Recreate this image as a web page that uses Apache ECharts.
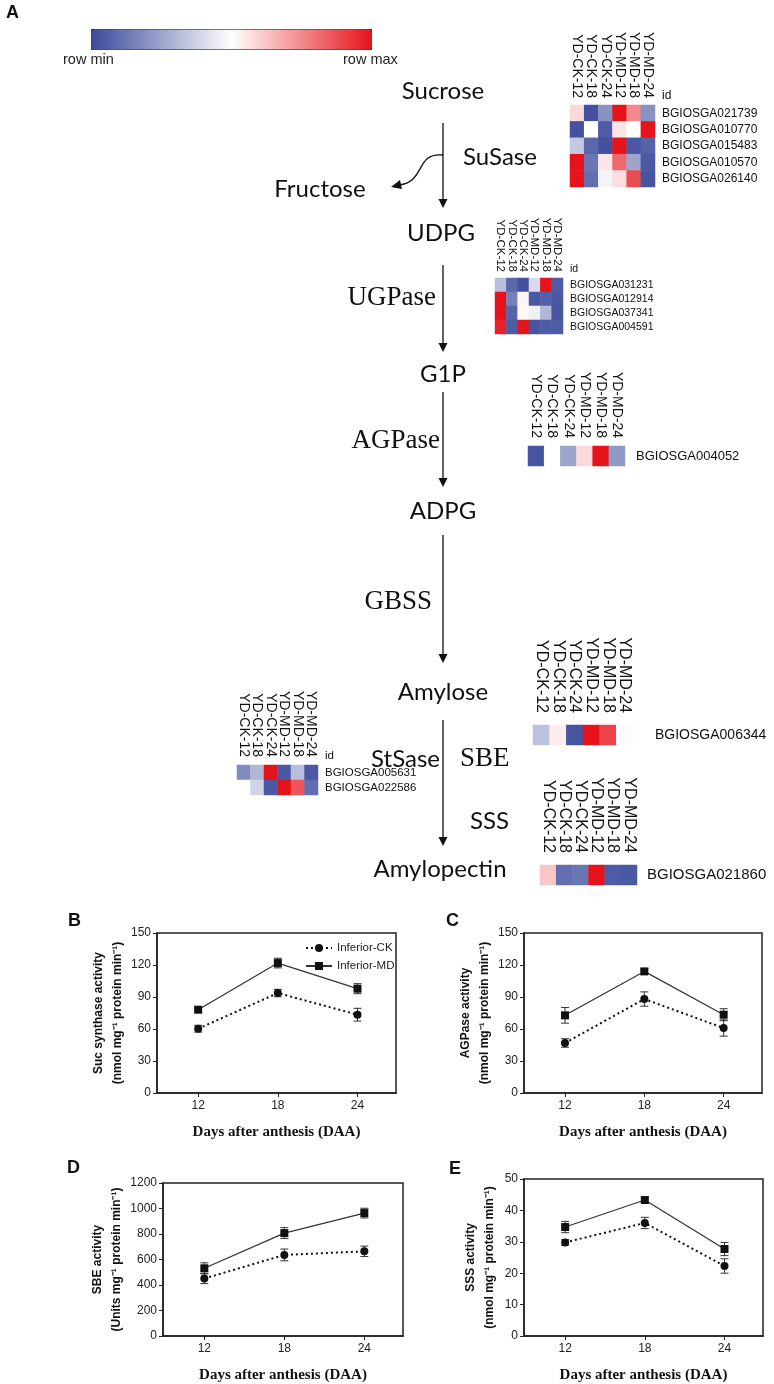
<!DOCTYPE html>
<html>
<head>
<meta charset="utf-8">
<script src="https://cdn.jsdelivr.net/npm/echarts@6/dist/echarts.min.js"></script>
<style>
  html, body { margin: 0; background: #fff; }
  #chart { width: 774px; height: 1384px; }
</style>
</head>
<body>
<div id="chart"></div>
<script>
// ---- heatmap data (row-scaled: 0 = row min, 1 = row max) ----
const sampleCols = ['YD-CK-12', 'YD-CK-18', 'YD-CK-24', 'YD-MD-12', 'YD-MD-18', 'YD-MD-24'];

const susaseIds = ['BGIOSGA021739', 'BGIOSGA010770', 'BGIOSGA015483', 'BGIOSGA010570', 'BGIOSGA026140'];
const susaseVals = [
  [0.58, 0.02, 0.20, 1.00, 0.75, 0.20],
  [0.02, 0.50, 0.05, 0.56, 0.50, 1.00],
  [0.35, 0.08, 0.02, 1.00, 0.04, 0.07],
  [1.00, 0.12, 0.55, 0.82, 0.25, 0.04],
  [1.00, 0.10, 0.47, 0.57, 0.88, 0.03],
];
const ugpaseIds = ['BGIOSGA031231', 'BGIOSGA012914', 'BGIOSGA037341', 'BGIOSGA004591'];
const ugpaseVals = [
  [0.32, 0.08, 0.02, 0.40, 1.00, 0.05],
  [1.00, 0.15, 0.52, 0.04, 0.06, 0.04],
  [1.00, 0.07, 0.51, 0.46, 0.30, 0.03],
  [0.97, 0.05, 1.00, 0.03, 0.05, 0.05],
];
const agpaseIds = ['BGIOSGA004052'];
const agpaseVals = [[0.03, 0.50, 0.25, 0.58, 1.00, 0.22]];
const sbeIds = ['BGIOSGA006344'];
const sbeVals = [[0.33, 0.54, 0.03, 1.00, 0.90, 0.49]];
const stsaseIds = ['BGIOSGA005631', 'BGIOSGA022586'];
const stsaseVals = [
  [0.18, 0.30, 1.00, 0.04, 0.32, 0.04],
  [0.50, 0.38, 0.04, 1.00, 0.86, 0.10],
];
const sssIds = ['BGIOSGA021860'];
const sssVals = [[0.62, 0.10, 0.12, 1.00, 0.05, 0.04]];

// ---- enzyme activity data (mean, error) ----
const daa = [12, 18, 24];
const sucCK = [60.3, 93.7, 73.4], sucCKErr = [3.2, 3.5, 6.0];
const sucMD = [78.1, 121.8, 97.8], sucMDErr = [2.2, 4.5, 4.7];
const agpCK = [46.9, 88.1, 60.9], agpCKErr = [4.0, 6.7, 7.6];
const agpMD = [72.8, 114.0, 73.4], agpMDErr = [7.3, 2.0, 5.6];
const sbeCK = [451, 636, 664], sbeCKErr = [40, 46, 41];
const sbeMD = [531, 807, 964], sbeMDErr = [43, 43, 38];
const sssCK = [29.8, 36.0, 22.3], sssCKErr = [0.9, 1.8, 2.3];
const sssMD = [34.7, 43.3, 27.7], sssMDErr = [1.8, 0.8, 2.1];

const SANS = 'Liberation Sans';
const SERIF = 'Liberation Serif';
const PATH_FONT = 'Lato';

const chart = echarts.init(document.getElementById('chart'), null, { renderer: 'canvas' });

// ---- heatmap panels ----
const heatPanels = [
  { ids: susaseIds, vals: susaseVals, left: 570, top: 105, width: 85, height: 82, colFont: 14, colGap: 7, rowFont: 12, rowGap: 7, idLabel: true },
  { ids: ugpaseIds, vals: ugpaseVals, left: 495, top: 278, width: 68, height: 56, colFont: 11.5, colGap: 6, rowFont: 10.5, rowGap: 7, idLabel: true },
  { ids: agpaseIds, vals: agpaseVals, left: 528, top: 446, width: 97, height: 20, colFont: 14, colGap: 8, rowFont: 13, rowGap: 11, idLabel: false },
  { ids: sbeIds, vals: sbeVals, left: 533, top: 725, width: 100, height: 20, colFont: 16, colGap: 12, rowFont: 14, rowGap: 22, idLabel: false },
  { ids: stsaseIds, vals: stsaseVals, left: 237, top: 765, width: 81, height: 30, colFont: 14, colGap: 8, rowFont: 11.5, rowGap: 7, idLabel: true },
  { ids: sssIds, vals: sssVals, left: 540, top: 865, width: 97, height: 20, colFont: 16, colGap: 12, rowFont: 15, rowGap: 10, idLabel: false },
];

const grids = [], xAxes = [], yAxes = [], series = [], graphics = [];

heatPanels.forEach((p, i) => {
  grids.push({ left: p.left, top: p.top, width: p.width, height: p.height, containLabel: false });
  xAxes.push({
    type: 'category', gridIndex: i, data: sampleCols, position: 'top',
    axisLine: { show: false }, axisTick: { show: false }, splitLine: { show: false },
    axisLabel: { rotate: 90, fontFamily: SANS, fontSize: p.colFont, color: '#111', margin: p.colGap, interval: 0 },
  });
  yAxes.push({
    type: 'category', gridIndex: i, data: p.ids, inverse: true, position: 'right',
    axisLine: { show: false }, axisTick: { show: false }, splitLine: { show: false },
    axisLabel: { fontFamily: SANS, fontSize: p.rowFont, color: '#111', margin: p.rowGap, interval: 0 },
  });
  const data = [];
  p.vals.forEach((row, r) => row.forEach((v, c) => data.push([c, r, v])));
  series.push({
    type: 'heatmap', xAxisIndex: i, yAxisIndex: i, data,
    itemStyle: { borderWidth: 0 }, emphasis: { disabled: true },
  });
  if (p.idLabel) {
    graphics.push({
      type: 'text', x: p.left + p.width + p.rowGap, y: p.top - 3,
      style: { text: 'id', fontFamily: SANS, fontSize: p.rowFont, fill: '#111', verticalAlign: 'bottom' },
    });
  }
});

// ---- line chart panels ----
function errorItem(params, api) {
  const x = api.value(0);
  const lo = api.coord([x, api.value(1)]);
  const hi = api.coord([x, api.value(2)]);
  const w = 4;
  const st = { stroke: '#333', lineWidth: 1 };
  return {
    type: 'group',
    children: [
      { type: 'line', shape: { x1: lo[0], y1: lo[1], x2: hi[0], y2: hi[1] }, style: st },
      { type: 'line', shape: { x1: lo[0] - w, y1: lo[1], x2: lo[0] + w, y2: lo[1] }, style: st },
      { type: 'line', shape: { x1: hi[0] - w, y1: hi[1], x2: hi[0] + w, y2: hi[1] }, style: st },
    ],
  };
}

const linePanels = [
  { left: 157, top: 933, width: 239, height: 160, max: 150, step: 30, gap: 24,
    name: 'Suc synthase activity\n(nmol mg⁻¹ protein min⁻¹)', ck: sucCK, ckErr: sucCKErr, md: sucMD, mdErr: sucMDErr },
  { left: 524, top: 933, width: 238, height: 160, max: 150, step: 30, gap: 25,
    name: 'AGPase activity\n(nmol mg⁻¹ protein min⁻¹)', ck: agpCK, ckErr: agpCKErr, md: agpMD, mdErr: agpMDErr },
  { left: 163, top: 1183, width: 240, height: 159, max: 1200, step: 200, gap: 31,
    name: 'SBE activity\n(Units mg⁻¹ protein min⁻¹)', ck: sbeCK, ckErr: sbeCKErr, md: sbeMD, mdErr: sbeMDErr },
  { left: 524, top: 1179, width: 239, height: 160, max: 50, step: 10, gap: 25,
    name: 'SSS activity\n(nmol mg⁻¹ protein min⁻¹)', ck: sssCK, ckErr: sssCKErr, md: sssMD, mdErr: sssMDErr },
];

linePanels.forEach((p, k) => {
  const gi = heatPanels.length + k;
  grids.push({ left: p.left, top: p.top, width: p.width, height: p.height, show: true, borderColor: '#222', borderWidth: 1.5 });
  xAxes.push({
    type: 'value', gridIndex: gi, min: 8.9, max: 26.9,
    axisLine: { show: true, lineStyle: { color: '#222', width: 1.5 } },
    axisTick: { show: true, length: 4, customValues: daa, lineStyle: { color: '#222' } },
    axisLabel: { customValues: daa, fontFamily: SANS, fontSize: 12, color: '#222', margin: 7 },
    splitLine: { show: false },
    name: 'Days after anthesis (DAA)', nameLocation: 'middle', nameGap: 32,
    nameTextStyle: { fontFamily: SERIF, fontWeight: 'bold', fontSize: 15, color: '#111' },
  });
  yAxes.push({
    type: 'value', gridIndex: gi, min: 0, max: p.max, interval: p.step,
    axisLine: { show: true, lineStyle: { color: '#222', width: 1.5 } },
    axisTick: { show: true, length: 4, lineStyle: { color: '#222' } },
    axisLabel: { fontFamily: SANS, fontSize: 12, color: '#222', margin: 6, formatter: v => String(v) },
    splitLine: { show: false },
    name: p.name, nameLocation: 'middle', nameRotate: 90, nameGap: p.gap,
    nameTextStyle: { fontFamily: SANS, fontWeight: 'bold', fontSize: 12, lineHeight: 19, color: '#111' },
  });
  const errData = (vals, errs) => daa.map((d, i) => [d, vals[i] - errs[i], vals[i] + errs[i]]);
  series.push(
    { type: 'custom', xAxisIndex: gi, yAxisIndex: gi, renderItem: errorItem, data: errData(p.ck, p.ckErr), encode: { x: 0, y: [1, 2] }, z: 2, silent: true },
    { type: 'custom', xAxisIndex: gi, yAxisIndex: gi, renderItem: errorItem, data: errData(p.md, p.mdErr), encode: { x: 0, y: [1, 2] }, z: 2, silent: true },
    {
      name: 'Inferior-CK', type: 'line', xAxisIndex: gi, yAxisIndex: gi, z: 3,
      data: daa.map((d, i) => [d, p.ck[i]]),
      symbol: 'circle', symbolSize: 8, itemStyle: { color: '#111' },
      lineStyle: { color: '#111', width: 2, type: [2, 3] },
    },
    {
      name: 'Inferior-MD', type: 'line', xAxisIndex: gi, yAxisIndex: gi, z: 3,
      data: daa.map((d, i) => [d, p.md[i]]),
      symbol: 'rect', symbolSize: 8, itemStyle: { color: '#111' },
      lineStyle: { color: '#333', width: 1.2 },
    }
  );
});

// ---- pathway annotations ----
const pathLabels = [
  { t: 'Sucrose', x: 443, y: 91, align: 'center', font: PATH_FONT, size: 24 },
  { t: 'SuSase', x: 463, y: 157, align: 'left', font: PATH_FONT, size: 24 },
  { t: 'Fructose', x: 320, y: 189, align: 'center', font: PATH_FONT, size: 24 },
  { t: 'UDPG', x: 441, y: 233, align: 'center', font: PATH_FONT, size: 24 },
  { t: 'UGPase', x: 436, y: 298, align: 'right', font: SERIF, size: 27 },
  { t: 'G1P', x: 443, y: 374, align: 'center', font: PATH_FONT, size: 24 },
  { t: 'AGPase', x: 440, y: 441, align: 'right', font: SERIF, size: 27 },
  { t: 'ADPG', x: 443, y: 511, align: 'center', font: PATH_FONT, size: 24 },
  { t: 'GBSS', x: 432, y: 602, align: 'right', font: SERIF, size: 27 },
  { t: 'Amylose', x: 443, y: 692, align: 'center', font: PATH_FONT, size: 24 },
  { t: 'StSase', x: 440, y: 759, align: 'right', font: PATH_FONT, size: 24 },
  { t: 'SBE', x: 460, y: 759, align: 'left', font: SERIF, size: 27 },
  { t: 'SSS', x: 470, y: 821, align: 'left', font: PATH_FONT, size: 24 },
  { t: 'Amylopectin', x: 440, y: 869, align: 'center', font: PATH_FONT, size: 24 },
];
pathLabels.forEach(l => graphics.push({
  type: 'text', x: l.x, y: l.y,
  style: { text: l.t, fontFamily: l.font, fontSize: l.size, fill: '#111', align: l.align, verticalAlign: 'middle' },
}));

const arrows = [[123, 208], [265, 352], [392, 487], [535, 663], [720, 846]];
const AX = 443;
arrows.forEach(([y1, y2]) => {
  graphics.push({ type: 'line', shape: { x1: AX, y1, x2: AX, y2: y2 - 6 }, style: { stroke: '#111', lineWidth: 1.3 } });
  graphics.push({ type: 'polygon', shape: { points: [[AX - 4.5, y2 - 9], [AX + 4.5, y2 - 9], [AX, y2]] }, style: { fill: '#111' } });
});
graphics.push({
  type: 'bezierCurve',
  shape: { x1: AX, y1: 155, cpx1: 415, cpy1: 152, cpx2: 426, cpy2: 182, x2: 399, y2: 185 },
  style: { stroke: '#111', lineWidth: 1.3, fill: null },
});
graphics.push({ type: 'polygon', shape: { points: [[391, 187], [400, 180], [402, 189]] }, style: { fill: '#111' } });

// panel letters and colour bar captions
[['A', 6, 4], ['B', 68, 912], ['C', 446, 912], ['D', 67, 1159], ['E', 449, 1160]].forEach(([t, x, y]) =>
  graphics.push({ type: 'text', x, y, style: { text: t, fontFamily: SANS, fontWeight: 'bold', fontSize: 18, fill: '#111' } }));
graphics.push({ type: 'text', x: 63, y: 60, style: { text: 'row min', fontFamily: SANS, fontSize: 14.5, fill: '#222', verticalAlign: 'middle' } });
graphics.push({ type: 'text', x: 343, y: 60, style: { text: 'row max', fontFamily: SANS, fontSize: 14.5, fill: '#222', verticalAlign: 'middle' } });

chart.setOption({
  animation: false,
  backgroundColor: '#fff',
  grid: grids,
  xAxis: xAxes,
  yAxis: yAxes,
  visualMap: {
    type: 'continuous', min: 0, max: 1, calculable: false,
    seriesIndex: heatPanels.map((p, i) => i),
    orient: 'horizontal', left: 91, top: 29, itemWidth: 20, itemHeight: 280,
    padding: 0, borderColor: '#222', borderWidth: 1, text: null, showLabel: false,
    inRange: { color: ['#3b4a9b', '#ffffff', '#e5141b'] },
  },
  legend: {
    data: ['Inferior-CK', 'Inferior-MD'], orient: 'vertical', left: 300, top: 937,
    itemWidth: 26, itemHeight: 10, itemGap: 6,
    textStyle: { fontFamily: SANS, fontSize: 11.5, color: '#222' },
  },
  graphic: graphics,
  series,
});
</script>
</body>
</html>
